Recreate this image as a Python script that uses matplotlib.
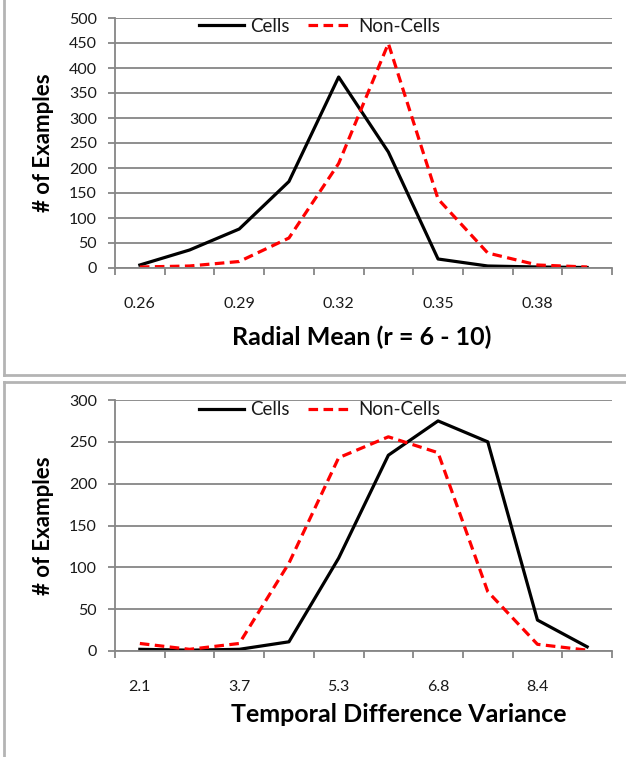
import matplotlib
matplotlib.use("Agg")
import matplotlib.pyplot as plt
from matplotlib.lines import Line2D

plt.rcParams["font.family"] = ["Lato", "DejaVu Sans"]

# histogram bins (category axis, every other label shown)
radial_bins = ["0.26", "0.275", "0.29", "0.305", "0.32", "0.335", "0.35", "0.365", "0.38", "0.395"]
radial_cells = [6, 36, 78, 173, 382, 232, 18, 4, 2, 1]
radial_noncells = [2, 4, 13, 60, 209, 449, 138, 30, 6, 2]

temporal_bins = ["2.1", "2.9", "3.7", "4.5", "5.3", "6.05", "6.8", "7.6", "8.4", "9.2"]
temporal_cells = [2, 1, 2, 11, 111, 234, 275, 250, 37, 5]
temporal_noncells = [9, 2, 9, 105, 231, 256, 237, 71, 8, 1]

W, H = 626, 757
GRID = "#868686"
TXT = "#1a1a1a"
DASH = (0, (3.0, 1.7))


def fx(px):
    return px / W


def fy(py):
    return 1 - py / H


def panel(fig, top, bottom, bins, cells, noncells, ymax, ystep, legend_y, xlabel, xlabel_x, xlabel_y):
    ax = fig.add_axes([fx(115), fy(bottom), fx(612) - fx(115), fy(top) - fy(bottom)])
    xs = list(range(len(bins)))
    ax.plot(xs, cells, color="black", linewidth=2.3, label="Cells")
    ax.plot(xs, noncells, color="#ff0000", linewidth=2.3, linestyle=DASH, label="Non-Cells")
    ax.set_xlim(-0.5, len(bins) - 0.5)
    ax.set_ylim(0, ymax)
    ax.set_yticks(range(0, ymax + 1, ystep))
    ax.yaxis.grid(True, color=GRID, linewidth=1.3)
    ax.set_axisbelow(True)
    # boundary ticks on category axis, labels on every second category
    ax.set_xticks([i - 0.5 for i in range(len(bins) + 1)])
    ax.set_xticklabels([])
    ax.set_xticks(xs[::2], minor=True)
    ax.set_xticklabels(bins[::2], minor=True)
    ax.tick_params(axis="x", which="major", length=5, color=GRID, width=1.3)
    ax.tick_params(axis="x", which="minor", length=0, pad=21, labelsize=11.5, labelcolor=TXT)
    ax.tick_params(axis="y", length=5, color=GRID, width=1.3, labelsize=11.5, labelcolor=TXT, pad=8)
    for side in ("top", "right"):
        ax.spines[side].set_visible(False)
    for side in ("left", "bottom"):
        ax.spines[side].set_color(GRID)
        ax.spines[side].set_linewidth(1.3)
    fig.text(fx(44), fy((top + bottom) / 2), "# of Examples", rotation=90, ha="center", va="center",
             fontsize=16, fontweight="bold", color="black")
    fig.text(fx(xlabel_x), fy(xlabel_y), xlabel, ha="center", va="center",
             fontsize=18, fontweight="bold", color="black")
    fig.legend(handles=[Line2D([], [], color="black", linewidth=2.3),
                        Line2D([], [], color="#ff0000", linewidth=2.3, linestyle=DASH)],
               labels=["Cells", "Non-Cells"], ncol=2, frameon=False, loc="center",
               bbox_to_anchor=(fx(320), fy(legend_y)), fontsize=13.5, handlelength=2.4,
               handletextpad=0.3, columnspacing=1.0, labelcolor=TXT)
    return ax


fig = plt.figure(figsize=(W / 100, H / 100), dpi=100)

panel(fig, 18, 268, radial_bins, radial_cells, radial_noncells, 500, 50, 26,
      "Radial Mean (r = 6 - 10)", 362, 337)
panel(fig, 400, 651, temporal_bins, temporal_cells, temporal_noncells, 300, 50, 410,
      "Temporal Difference Variance", 399, 715)

# chart object borders
border = dict(color="#b4b4b4", linewidth=2, transform=fig.transFigure)
fig.add_artist(Line2D([fx(3.5), fx(3.5)], [fy(0), fy(375)], **border))
fig.add_artist(Line2D([fx(3.5), fx(626)], [fy(375), fy(375)], **border))
fig.add_artist(Line2D([fx(3.5), fx(626)], [fy(381.5), fy(381.5)], **border))
fig.add_artist(Line2D([fx(3.5), fx(3.5)], [fy(381.5), fy(757)], **border))

fig.savefig("out.png", dpi=100)
